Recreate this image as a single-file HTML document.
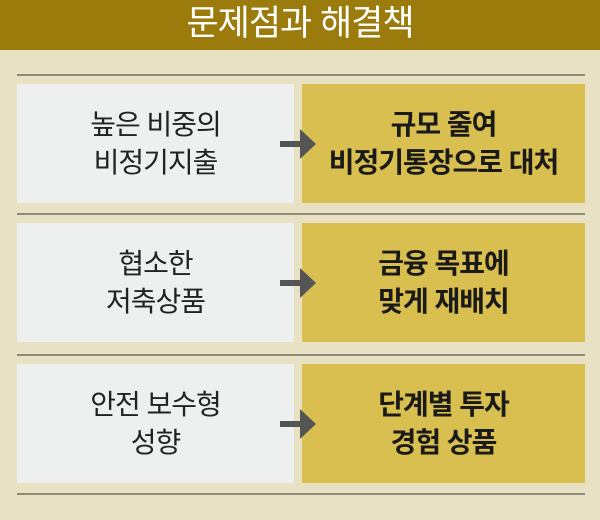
<!DOCTYPE html>
<html><head><meta charset="utf-8"><style>
*{margin:0;padding:0;box-sizing:border-box}
body{width:600px;height:520px;background:#e9e1c3;position:relative;overflow:hidden;font-family:"Liberation Sans","Noto Sans CJK KR",sans-serif}
.hd{position:absolute;left:0;top:0;width:600px;height:50px;background:#9b7b0b;color:#fff;font-size:35px;text-align:center;line-height:48px;letter-spacing:-1px}
.ln{position:absolute;left:17px;width:568px;height:2px;background:#8e8a78}
.l,.r{position:absolute;height:119px;display:flex;align-items:center;justify-content:center;text-align:center;font-size:28px;line-height:38px;color:#222;letter-spacing:-1px}
.l{left:17px;width:277px;background:#eef0ef}
.r{left:302px;width:283px;background:#d9bf4f;font-weight:bold;color:#1a1a1a}
.a{position:absolute;left:280px;width:36px;height:30px}
</style></head><body>
<div class="hd">문제점과 해결책</div>
<div class="ln" style="top:74px"></div>
<div class="l" style="top:84px">높은 비중의<br>비정기지출</div>
<div class="r" style="top:84px">규모 줄여<br>비정기통장으로 대처</div>
<div class="ln" style="top:213px"></div>
<div class="l" style="top:223px">협소한<br>저축상품</div>
<div class="r" style="top:223px">금융 목표에<br>맞게 재배치</div>
<div class="ln" style="top:354px"></div>
<div class="l" style="top:364px">안전 보수형<br>성향</div>
<div class="r" style="top:364px">단계별 투자<br>경험 상품</div>
<div class="ln" style="top:493px"></div>
<svg class="a" style="top:129px" viewBox="0 0 36 30"><rect x="0" y="12" width="22" height="6" fill="#555"/><polygon points="20,0 36,15 20,30" fill="#555"/></svg>
<svg class="a" style="top:268px" viewBox="0 0 36 30"><rect x="0" y="12" width="22" height="6" fill="#555"/><polygon points="20,0 36,15 20,30" fill="#555"/></svg>
<svg class="a" style="top:409px" viewBox="0 0 36 30"><rect x="0" y="12" width="22" height="6" fill="#555"/><polygon points="20,0 36,15 20,30" fill="#555"/></svg>
</body></html>
